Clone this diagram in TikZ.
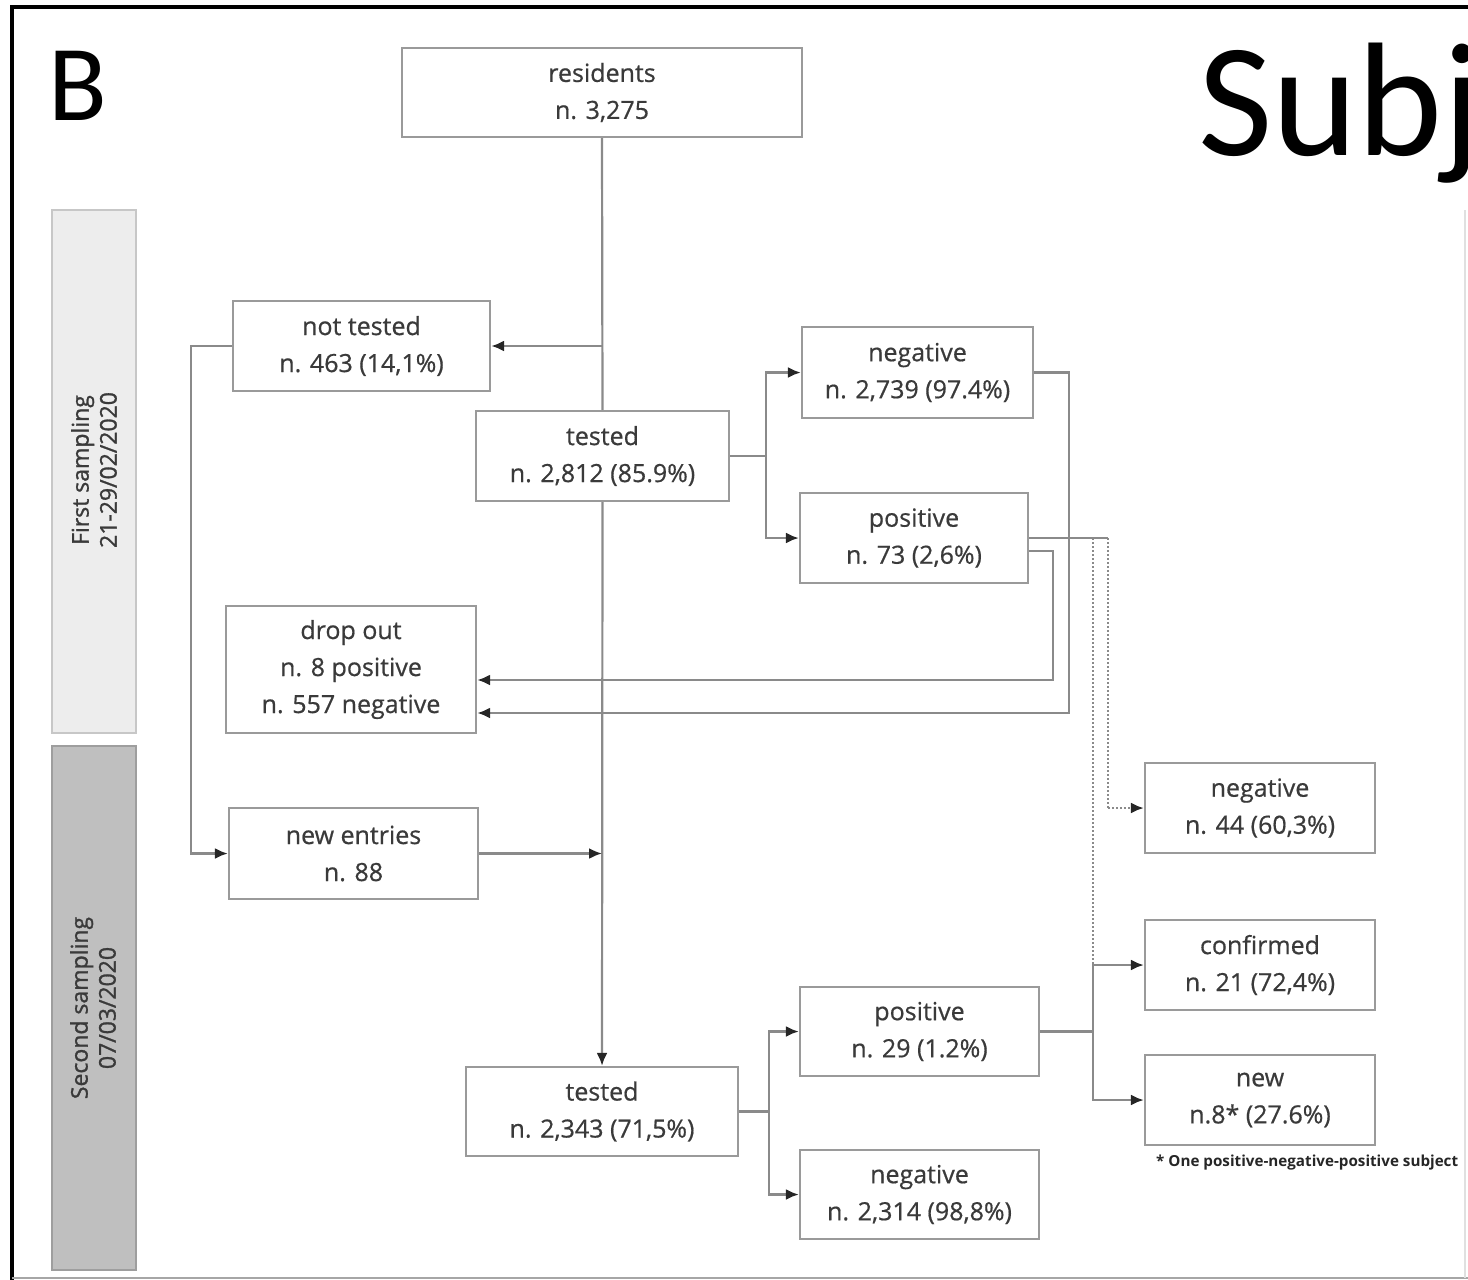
\documentclass[tikz,border=0pt]{standalone}
\usepackage{fontspec}
\setmainfont{Open Sans}
\newfontfamily\boxfont[FakeBold=0.6]{Open Sans}
\newfontfamily\sidefont[FakeBold=1.2]{Open Sans}
\newfontfamily\calib{Carlito}
\usetikzlibrary{arrows.meta}
\definecolor{boxline}{HTML}{9A9A9A}
\definecolor{conn}{HTML}{8A8A8A}
\definecolor{txt}{HTML}{3A3A3A}
\definecolor{sideA}{HTML}{EDEDED}
\definecolor{sideB}{HTML}{BFBFBF}
\tikzset{
 box/.style={draw=boxline, line width=2.4pt, fill=white, align=center, text=txt,
   font=\boxfont\fontsize{25}{37}\selectfont, inner sep=0pt},
 link/.style={draw=conn, line width=2.2pt},
 arr/.style={link, -{Latex[length=13pt,width=11pt,color=black!85]}},
 dotline/.style={draw=conn, line width=1.8pt, dash pattern=on 2pt off 2pt},
 sidetext/.style={rotate=90, align=center, text=txt, font=\sidefont\fontsize{23}{28}\selectfont, inner sep=0pt},
}
\begin{document}
\begin{tikzpicture}[x=1pt,y=-1pt]
\useasboundingbox (0,0) rectangle (1468,1280);
\clip (0,0) rectangle (1468,1280);
% frame
\draw[black, line width=3.5pt] (12,1282) -- (12,7) -- (1470,7);
\draw[black!35, line width=1.5pt] (12,1278) -- (1470,1278);
\draw[black!12, line width=1.2pt] (1465,210) -- (1465,1278);
% letters
\node[anchor=base west, inner sep=0pt, font=\calib\fontsize{108}{108}\selectfont] (lb) at (48,120) {B};
\node[anchor=base west, inner sep=0pt, font=\calib\fontsize{162}{162}\selectfont] (ls) at (1198,155) {Subj};
% side bars
\draw[draw=black!22, fill=sideA, line width=1.5pt] (52,210) rectangle (136,733);
\draw[draw=black!38, fill=sideB, line width=1.5pt] (52,746) rectangle (136,1270);
\node[sidetext] (sa) at (94,470) {First sampling\\21-29/02/2020};
\node[sidetext] (sb) at (93,1008) {Second sampling\\07/03/2020};
% boxes
\node[box, minimum width=400pt, minimum height=89pt] (res) at (602,92.5) {residents\\n. 3,275};
\node[box, minimum width=257pt, minimum height=90pt] (nt) at (361.5,346) {not tested\\n. 463 (14,1\%)};
\node[box, minimum width=253pt, minimum height=90pt] (t1) at (602.5,456) {tested\\n. 2,812 (85.9\%)};
\node[box, minimum width=231pt, minimum height=91pt] (n1) at (917.5,372.5) {negative\\n. 2,739 (97.4\%)};
\node[box, minimum width=228pt, minimum height=90pt] (p1) at (914,538) {positive\\n. 73 (2,6\%)};
\node[box, minimum width=250pt, minimum height=127pt] (drop) at (351,669.5) {drop out\\n. 8 positive\\n. 557 negative};
\node[box, minimum width=249pt, minimum height=91pt] (ne) at (353.5,853.5) {new entries\\n. 88};
\node[box, minimum width=230pt, minimum height=90pt] (n2) at (1260,808) {negative\\n. 44 (60,3\%)};
\node[box, minimum width=230pt, minimum height=90pt] (cf) at (1260,965) {confirmed\\n. 21 (72,4\%)};
\node[box, minimum width=230pt, minimum height=90pt] (nw) at (1260,1100) {new\\n.8* (27.6\%)};
\node[box, minimum width=239pt, minimum height=89pt] (p2) at (919.5,1031.5) {positive\\n. 29 (1.2\%)};
\node[box, minimum width=272pt, minimum height=89pt] (t2) at (602,1111.5) {tested\\n. 2,343 (71,5\%)};
\node[box, minimum width=239pt, minimum height=89pt] (n3) at (919.5,1194.5) {negative\\n. 2,314 (98,8\%)};
\node[anchor=west, inner sep=0pt, text=black!85, font=\bfseries\fontsize{15.2}{17}\selectfont] (fn) at (1156,1163) {* One positive-negative-positive subject};
% junction coordinates
\coordinate (j1) at (602,346);
\coordinate (j2) at (602,853.5);
\coordinate (d1) at (1093,538);
\coordinate (d2) at (1108,538);
% connectors
\draw[link] (res.south) -- (t1.north);
\draw[arr] (j1) -- (nt.east);
\draw[arr] (t1.south) -- (t2.north);
\draw[arr] (t1.east) -- ++(36,0) |- (n1.west);
\draw[arr] (t1.east) -- ++(36,0) |- (p1.west);
\draw[arr] (nt.west) -- ++(-41,0) |- (ne.west);
\draw[arr] (ne.east) -- (j2);
\draw[arr] ([yshift=-13pt]p1.east) -- ++(24,0) |- ([yshift=-10.5pt]drop.east);
\draw[arr] (n1.east) -- ++(35,0) |- ([yshift=-43.5pt]drop.east);
\draw[link] (p1.east) -- (d2);
\draw[dotline] (d1) -- (d1 |- cf.west);
\draw[dotline] (d2) -- (d2 |- n2.west);
\draw[arr, dash pattern=on 2pt off 2pt] (d2 |- n2.west) -- (n2.west);
\draw[arr] (p2.east) -- ++(53,0) |- (cf.west);
\draw[arr] (p2.east) -- ++(53,0) |- (nw.west);
\draw[arr] (t2.east) -- ++(30,0) |- (p2.west);
\draw[arr] (t2.east) -- ++(30,0) |- (n3.west);
\end{tikzpicture}
\end{document}
